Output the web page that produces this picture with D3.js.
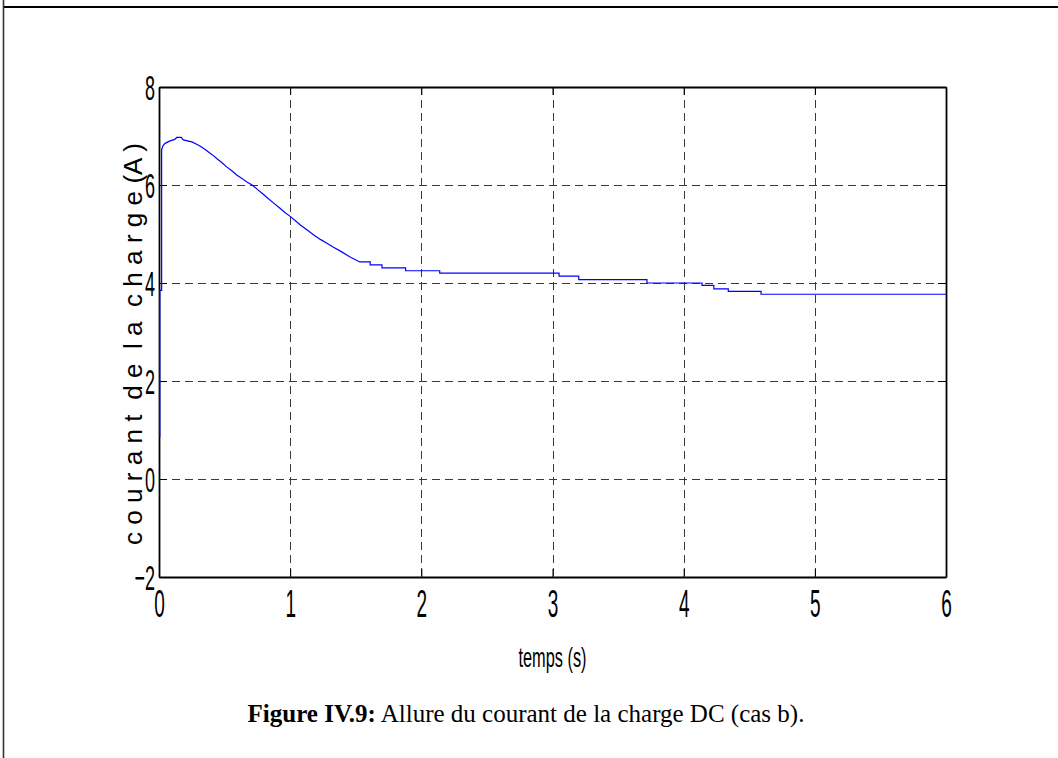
<!DOCTYPE html>
<html>
<head>
<meta charset="utf-8">
<script src="https://cdn.jsdelivr.net/npm/d3@7"></script>
<style>
  html, body { margin: 0; padding: 0; background: #fff; }
  svg { display: block; }
  text { white-space: pre; }
</style>
</head>
<body>
<script>
// ---- data (corner points of the stepped trace) ----
const timeS = [0.006, 0.006, 0.02, 0.02, 0.03, 0.046, 0.084, 0.12, 0.135, 0.17, 0.185, 0.25, 0.287, 0.315, 0.338, 0.365, 0.389, 0.415, 0.44, 0.478, 0.516, 0.555, 0.595, 0.635, 0.67, 0.71, 0.75, 0.79, 0.83, 0.87, 0.92, 0.96, 1.0, 1.04, 1.08, 1.13, 1.18, 1.23, 1.28, 1.33, 1.39, 1.45, 1.53,
  1.61, 1.61, 1.70, 1.70, 1.88, 1.88, 2.14, 2.14, 3.05, 3.05, 3.20, 3.20, 3.72, 3.72, 4.14, 4.14, 4.23, 4.23, 4.34, 4.34, 4.59, 4.59, 6.0];
const currentA = [0.85, 3.85, 3.85, 6.72, 6.80, 6.85, 6.90, 6.93, 6.97, 6.97, 6.92, 6.88, 6.83, 6.79, 6.75, 6.70, 6.65, 6.60, 6.54, 6.46, 6.37, 6.29, 6.20, 6.13, 6.06, 6.00, 5.91, 5.82, 5.73, 5.64, 5.53, 5.44, 5.36, 5.27, 5.18, 5.08, 4.98, 4.89, 4.81, 4.73, 4.64, 4.54, 4.43,
  4.43, 4.37, 4.37, 4.31, 4.31, 4.25, 4.25, 4.20, 4.20, 4.14, 4.14, 4.07, 4.07, 4.00, 4.00, 3.95, 3.95, 3.88, 3.88, 3.83, 3.83, 3.77, 3.77];
const xTicks = [0, 1, 2, 3, 4, 5, 6];
const yTicks = [-2, 0, 2, 4, 6, 8];
const xLabel = "temps (s)";
const yLabel = "c o u r a n t  d e  l a  c h a r g e (A )";
const captionBold = "Figure IV.9:";
const captionRest = " Allure du courant de la charge DC (cas b).";

// ---- layout ----
const W = 1058, H = 758;
const plot = { left: 159, right: 946, top: 87, bottom: 577 };

const svg = d3.select("body").append("svg").attr("width", W).attr("height", H);
svg.append("rect").attr("width", W).attr("height", H).attr("fill", "#fff");

// page frame (top rule and left rule)
svg.append("line").attr("x1", 3).attr("x2", W).attr("y1", 7).attr("y2", 7)
  .attr("stroke", "#000").attr("stroke-width", 2.2);
svg.append("line").attr("x1", 3.5).attr("x2", 3.5).attr("y1", 0).attr("y2", H)
  .attr("stroke", "#333").attr("stroke-width", 1.6);

const x = d3.scaleLinear().domain([0, 6]).range([plot.left, plot.right]);
const y = d3.scaleLinear().domain([-2, 8]).range([plot.bottom, plot.top]);

// grid
const grid = svg.append("g").attr("stroke", "#3a3a3a").attr("stroke-width", 1).attr("stroke-dasharray", "8,5");
grid.selectAll(".gx").data(xTicks.slice(1, -1)).join("line")
  .attr("x1", d => Math.round(x(d)) + 0.5).attr("x2", d => Math.round(x(d)) + 0.5)
  .attr("y1", plot.top).attr("y2", plot.bottom);
grid.selectAll(".gy").data(yTicks.slice(1, -1)).join("line")
  .attr("y1", d => Math.round(y(d)) + 0.5).attr("y2", d => Math.round(y(d)) + 0.5)
  .attr("x1", plot.left).attr("x2", plot.right);

// axes (ticks inward, box)
const tickLen = 8;
const fontTick = "'Liberation Sans', Arial, sans-serif";
const sx = 0.5;

const axB = svg.append("g").attr("transform", `translate(0,${plot.bottom})`)
  .call(d3.axisBottom(x).tickValues(xTicks).tickSizeInner(-tickLen).tickSizeOuter(0).tickPadding(0).tickFormat(d3.format("d")));
const axT = svg.append("g").attr("transform", `translate(0,${plot.top})`)
  .call(d3.axisTop(x).tickValues(xTicks).tickSizeInner(-tickLen).tickSizeOuter(0).tickFormat(""));
const axL = svg.append("g").attr("transform", `translate(${plot.left},0)`)
  .call(d3.axisLeft(y).tickValues(yTicks).tickSizeInner(-tickLen).tickSizeOuter(0).tickPadding(0).tickFormat(d3.format("d")));
const axR = svg.append("g").attr("transform", `translate(${plot.right},0)`)
  .call(d3.axisRight(y).tickValues(yTicks).tickSizeInner(-tickLen).tickSizeOuter(0).tickFormat(""));

[axB, axT, axL, axR].forEach(a => {
  a.select(".domain").attr("stroke", "#000").attr("stroke-width", 1.8);
  a.selectAll(".tick line").attr("stroke", "#000").attr("stroke-width", 1);
});

axB.selectAll(".tick text")
  .attr("y", 0).attr("dy", null)
  .attr("font-family", fontTick).attr("font-size", 38).attr("fill", "#000")
  .attr("transform", `translate(0,40) scale(${sx},1)`);
axL.selectAll(".tick text")
  .attr("x", 0).attr("dy", "0.35em")
  .attr("font-family", fontTick).attr("font-size", 36).attr("fill", "#000")
  .attr("transform", `translate(-4,0) scale(${sx},1)`);

// data line (on top of the axes)
const line = d3.line().x((d, i) => x(timeS[i])).y(d => y(d)).curve(d3.curveLinear);
svg.append("path").datum(currentA).attr("d", line)
  .attr("fill", "none").attr("stroke", "#0000ff").attr("stroke-width", 1.2);

// y label
svg.append("text")
  .attr("transform", `translate(142,${(143 + 545) / 2}) rotate(-90)`)
  .attr("text-anchor", "middle")
  .attr("font-family", fontTick).attr("font-size", 26)
  .attr("textLength", 402).attr("lengthAdjust", "spacingAndGlyphs")
  .text(yLabel);

// x label
svg.append("text")
  .attr("x", x(3)).attr("y", 667)
  .attr("text-anchor", "middle")
  .attr("font-family", fontTick).attr("font-size", 28)
  .attr("textLength", 68).attr("lengthAdjust", "spacingAndGlyphs")
  .text(xLabel);

// caption
const cap = svg.append("text").attr("x", 526).attr("y", 722).attr("text-anchor", "middle")
  .attr("font-family", "'Liberation Serif', 'Times New Roman', serif").attr("font-size", 25).attr("fill", "#000");
cap.append("tspan").attr("font-weight", "bold").text(captionBold);
cap.append("tspan").text(captionRest);
</script>
</body>
</html>
